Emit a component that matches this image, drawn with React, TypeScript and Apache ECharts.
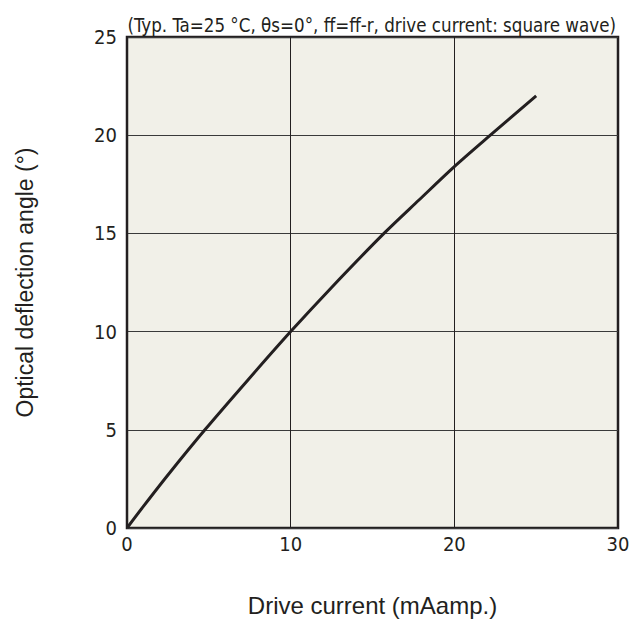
import React, { useEffect, useRef } from "react";
import * as echarts from "echarts";

const currents = [0, 1, 2.5, 4.76, 7.39, 10, 12.5, 15.7, 17.84, 20, 22.2, 25];
const angles = [0, 1.1, 2.7, 5, 7.54, 10, 12.25, 15, 16.7, 18.4, 20, 22];
const xTicks = [0, 10, 20, 30];
const yTicks = [0, 5, 10, 15, 20, 25];
const conditionText = "(Typ. Ta=25 °C, θs=0°, ff=ff-r, drive current: square wave)";
const xTitle = "Drive current (mAamp.)";
const yTitle = "Optical deflection angle (°)";

export default function App() {
  const ref = useRef<HTMLDivElement>(null);
  useEffect(() => {
    const chart = echarts.init(ref.current!, null, { renderer: "svg" });
    const dark = "#231f20";
    const tickFont = "'DejaVu Sans Condensed', 'DejaVu Sans', sans-serif";
    chart.setOption({
      animation: false,
      backgroundColor: "#ffffff",
      title: {
        text: conditionText,
        right: 10,
        top: 11,
        textStyle: { fontFamily: tickFont, fontSize: 18.6, fontWeight: "normal", color: dark },
      },
      grid: {
        left: 127,
        right: 13,
        top: 37,
        bottom: 96,
        containLabel: false,
        outerBoundsMode: "none",
        show: true,
        backgroundColor: "#f1f0e8",
        borderColor: dark,
        borderWidth: 2.5,
      },
      xAxis: {
        type: "value",
        min: xTicks[0],
        max: xTicks[xTicks.length - 1],
        interval: 10,
        name: xTitle,
        nameLocation: "middle",
        nameGap: 65,
        nameTextStyle: { fontFamily: "Liberation Sans", fontSize: 24, color: dark },
        axisLine: { show: false },
        axisTick: { show: false },
        axisLabel: { fontFamily: tickFont, fontSize: 20, color: dark, margin: 6 },
        splitLine: { show: true, lineStyle: { color: dark, width: 1 } },
      },
      yAxis: {
        type: "value",
        min: yTicks[0],
        max: yTicks[yTicks.length - 1],
        interval: 5,
        name: yTitle,
        nameLocation: "middle",
        nameGap: 91,
        nameTextStyle: { fontFamily: "Liberation Sans", fontSize: 23, color: dark },
        axisLine: { show: false },
        axisTick: { show: false },
        axisLabel: { fontFamily: tickFont, fontSize: 20, color: dark, margin: 10 },
        splitLine: { show: true, lineStyle: { color: "#3a3a3a", width: 1 } },
      },
      series: [
        {
          type: "line",
          data: currents.map((c, i) => [c, angles[i]]),
          smooth: 0.3,
          showSymbol: false,
          lineStyle: { color: dark, width: 3 },
        },
      ],
    });
    return () => chart.dispose();
  }, []);
  return (
    <div
      ref={ref}
      style={{ position: "fixed", left: 0, top: 0, width: 631, height: 624 }}
    />
  );
}
